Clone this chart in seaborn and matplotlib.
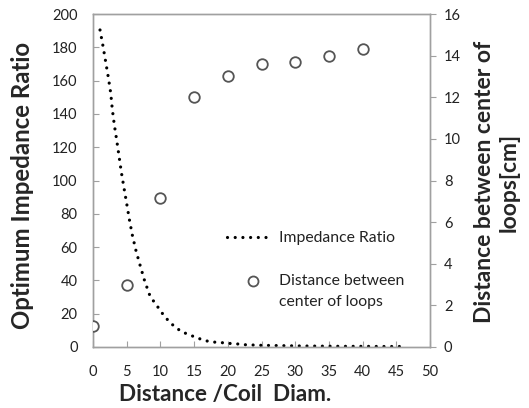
import matplotlib
matplotlib.use("Agg")
import matplotlib.pyplot as plt
import seaborn as sns
import pandas as pd
from matplotlib.lines import Line2D
from matplotlib.legend_handler import HandlerLine2D

# Impedance ratio curve
ratio_x = [1.04, 1.48, 1.88, 2.27, 2.63, 2.86, 3.16, 3.52, 3.86, 4.2, 4.6, 5.0, 5.39,
           5.83, 6.38, 7.02, 7.67, 8.46, 9.15, 9.84, 10.53, 11.32, 12.17, 13.16, 14.24,
           15.39, 16.47, 17.61, 18.74, 19.93, 21.1, 22.3, 25, 28, 31, 34, 37, 40, 43, 46]
ratio_y = [190.4, 180.8, 171.3, 162.0, 152.5, 142.9, 133.5, 124.1, 114.7, 105.1, 95.5,
           86.1, 76.7, 67.3, 57.8, 48.6, 39.6, 30.6, 26.6, 22.8, 18.8, 15.2, 12.0, 9.2,
           7.4, 5.6, 4.0, 3.0, 2.8, 2.2, 2.0, 1.4, 1.0, 0.8, 0.6, 0.5, 0.4, 0.4, 0.3, 0.3]

# Distance between center of loops [cm]
dist_x = [0, 5, 10, 15, 20, 25, 30, 35, 40]
dist_y = [1.0, 3.0, 7.15, 12.0, 13.0, 13.6, 13.7, 14.0, 14.3]

x_ticks = [0, 5, 10, 15, 20, 25, 30, 35, 40, 45, 50]
left_ticks = [0, 20, 40, 60, 80, 100, 120, 140, 160, 180, 200]
right_ticks = [0, 2, 4, 6, 8, 10, 12, 14, 16]


class ShiftedHandler(HandlerLine2D):
    def __init__(self, dx=0.0, dy=0.0, **kw):
        super().__init__(**kw)
        self.dx = dx
        self.dy = dy

    def create_artists(self, legend, orig_handle, xdescent, ydescent, width, height,
                       fontsize, trans):
        return super().create_artists(legend, orig_handle, xdescent - self.dx,
                                      ydescent - self.dy, width, height, fontsize, trans)


sns.set_style("white")
plt.rcParams['font.family'] = ['Lato', 'DejaVu Sans']

fig = plt.figure(figsize=(5.29, 4.08), dpi=100)
ax = fig.add_axes([93/529, 1 - 347/408, 337/529, 333/408])
ax2 = ax.twinx()

df1 = pd.DataFrame({"x": ratio_x, "y": ratio_y})
df2 = pd.DataFrame({"x": dist_x, "y": dist_y})

sns.lineplot(data=df1, x="x", y="y", ax=ax, color="black", linewidth=2.3,
             linestyle=(0, (0.01, 2.4)), dash_capstyle="round", sort=False)
sns.scatterplot(data=df2, x="x", y="y", ax=ax2, s=58, facecolor="white",
                edgecolor="#555555", linewidth=1.3, zorder=3)

spine_c = "#a0a0a0"
for a in (ax, ax2):
    for s in a.spines.values():
        s.set_color(spine_c)
        s.set_linewidth(1.0)

ax.set_xlim(0, 50)
ax.set_ylim(0, 200)
ax2.set_ylim(0, 16)
ax.set_xticks(x_ticks)
ax.set_yticks(left_ticks)
ax2.set_yticks(right_ticks)

tick_c = "#222222"
ax.tick_params(axis="x", direction="in", length=4, color=spine_c, pad=13,
               labelsize=10.5, labelcolor=tick_c, bottom=True)
ax.tick_params(axis="y", direction="in", length=4, color=spine_c, pad=11,
               labelsize=10.5, labelcolor=tick_c, left=True)
ax2.tick_params(axis="y", direction="out", length=4, color=spine_c, pad=6,
                labelsize=10.5, labelcolor=tick_c, right=True)

ax.set_xlabel("Distance /Coil  Diam.", fontsize=16.2, fontweight="bold")
ax.xaxis.set_label_coords(0.392, -0.11)
ax.set_ylabel("Optimum Impedance Ratio", fontsize=17.3, fontweight="bold", va="center")
ax.yaxis.set_label_coords(-0.208, 0.486)
ax2.set_ylabel("Distance between center of\nloops[cm]", fontsize=16.5,
               fontweight="bold", va="center", linespacing=1.2)
ax2.yaxis.set_label_coords(1.199, 0.495)

handles = [
    Line2D([], [], color="black", linewidth=2.3, linestyle=(0, (0.01, 2.4)),
           dash_capstyle="round"),
    Line2D([], [], marker="o", linestyle="none", markersize=7.2,
           markerfacecolor="white", markeredgecolor="#555555", markeredgewidth=1.3),
]
labels = ["Impedance Ratio", "Distance between\ncenter of loops"]
leg = ax2.legend(handles, labels, loc="upper left", bbox_to_anchor=(0.355, 0.39),
                 frameon=False, fontsize=11.3, handlelength=2.7, labelspacing=1.85,
                 handletextpad=0.64, labelcolor="#222222",
                 handler_map={handles[1]: ShiftedHandler(dx=3.6, dy=15.0)})
for t in leg.get_texts():
    t.set_linespacing(1.6)

fig.savefig("out.png", dpi=100)
